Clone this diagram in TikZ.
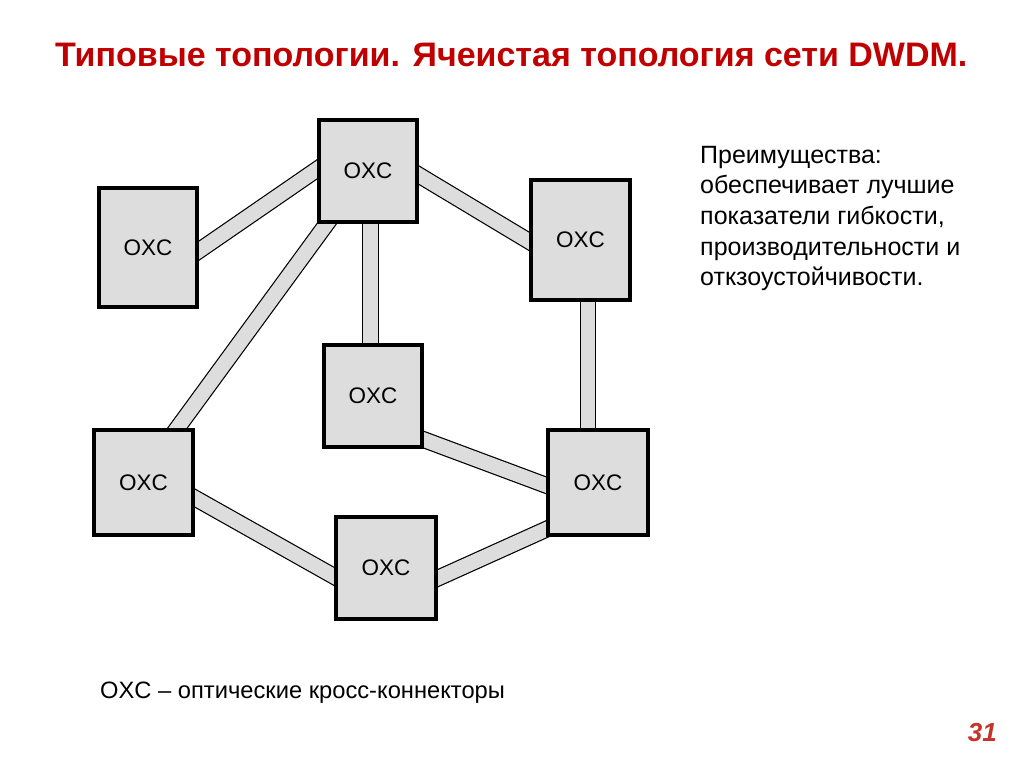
\documentclass[tikz,border=0pt]{standalone}
\usepackage{fontspec}
\setmainfont{Liberation Sans}
\usetikzlibrary{calc}
\definecolor{titlered}{RGB}{192,0,0}
\definecolor{numred}{RGB}{196,52,40}
\definecolor{boxgray}{RGB}{221,221,221}
\begin{document}
\begin{tikzpicture}[x=1pt,y=-1pt,
  oxc/.style={draw=black, line width=4pt, fill=boxgray, inner sep=0pt,
    font=\fontsize{22.5}{27}\selectfont},
  link/.style={draw=black, line width=1.2pt, double=boxgray, double distance=14.5pt,
    shorten <=-6pt, shorten >=-6pt},
  body/.style={anchor=base west, inner sep=0pt, font=\fontsize{25}{30}\selectfont}]
\useasboundingbox (0,0) rectangle (1024,767);

% boxes (drawn again on top of links below)
\node[oxc, minimum width=94pt, minimum height=98pt]  (b1) at (368,171)   {};
\node[oxc, minimum width=94pt, minimum height=115pt] (b2) at (148,247.5) {};
\node[oxc, minimum width=95pt, minimum height=116pt] (b3) at (580.5,240) {};
\node[oxc, minimum width=94pt, minimum height=98pt]  (b4) at (373,396)   {};
\node[oxc, minimum width=95pt, minimum height=101pt] (b5) at (143.5,482.5) {};
\node[oxc, minimum width=96pt, minimum height=101pt] (b6) at (598,482.5) {};
\node[oxc, minimum width=96pt, minimum height=98pt]  (b7) at (386,568)   {};

% links
\draw[link] ($(b2.east)+(0,4.5)$) -- ($(b1.west)+(0,-3)$);
\draw[link] ($(b1.east)+(0,3)$) -- ($(b3.west)+(0,2.5)$);
\draw[link] ($(b1.south)+(2.5,0)$) -- ($(b4.north)+(-2.5,0)$);
\draw[link] ($(b1.south)+(-40,0)$) -- ($(b5.north)+(32.5,0)$);
\draw[link] ($(b3.south)+(7.5,0)$) -- ($(b6.north)+(-10,0)$);
\draw[link] ($(b4.east)+(0,43)$) -- ($(b6.west)+(0,3.5)$);
\draw[link] ($(b5.east)+(0,14.5)$) -- ($(b7.west)+(0,9.5)$);
\draw[link] ($(b7.east)+(0,11)$) -- ($(b6.west)+(0,46)$);

% boxes on top of links
\foreach \n in {b1,b2,b3,b4,b5,b6,b7}{
  \draw[black, line width=4pt, fill=boxgray] (\n.north west) rectangle (\n.south east);
  \node[font=\fontsize{22.5}{27}\selectfont] at (\n.center) {OXC};
}

% texts
\node[anchor=base west, inner sep=0pt, text=titlered,
  font=\fontsize{34}{40}\selectfont\bfseries] (title) at (55,67)
  {Типовые топологии. Ячеистая топология сети DWDM.};
\node[body] (r1) at (700,163.5) {Преимущества:};
\node[body] (r2) at (700,194)   {обеспечивает лучшие};
\node[body] (r3) at (700,224.5) {показатели гибкости,};
\node[body] (r4) at (700,255)   {производительности и};
\node[body] (r5) at (700,285.5) {откзоустойчивости.};
\node[anchor=base west, inner sep=0pt, font=\fontsize{23.7}{28}\selectfont] (legend) at (100,698)
  {OXC – оптические кросс-коннекторы};
\node[anchor=base east, inner sep=0pt, text=numred,
  font=\fontsize{26}{30}\selectfont\bfseries\itshape] (num) at (997,741.7) {31};
\end{tikzpicture}
\end{document}
